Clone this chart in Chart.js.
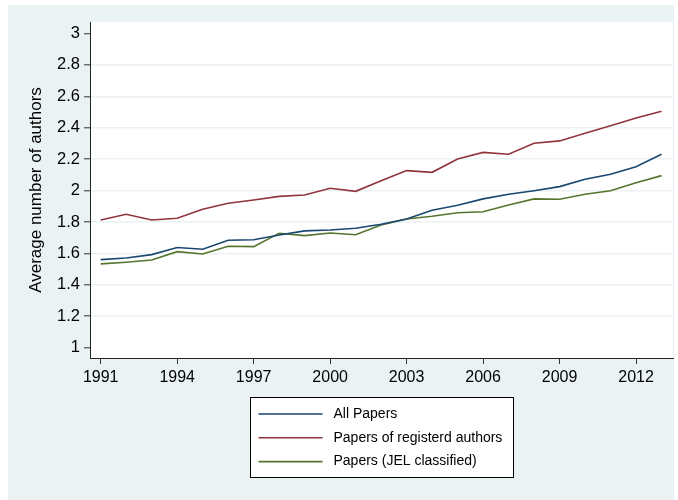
<!DOCTYPE html>
<html>
<head>
<meta charset="utf-8">
<script src="https://cdn.jsdelivr.net/npm/chart.js@4.4.1/dist/chart.umd.min.js"></script>
<style>
  html, body { margin: 0; padding: 0; background: #fff; }
  canvas { display: block; }
</style>
</head>
<body>
<canvas id="myChart" width="678" height="500"></canvas>
<script>
const years = [1991, 1992, 1993, 1994, 1995, 1996, 1997, 1998, 1999, 2000, 2001, 2002,
  2003, 2004, 2005, 2006, 2007, 2008, 2009, 2010, 2011, 2012, 2013]

const allPapers = [1.560, 1.571, 1.592, 1.637, 1.626, 1.684, 1.687, 1.717, 1.743, 1.749,
  1.760, 1.785, 1.819, 1.875, 1.906, 1.947, 1.976, 1.999, 2.025, 2.072, 2.104, 2.152, 2.231]
const registeredAuthors = [1.813, 1.849, 1.813, 1.824, 1.881, 1.919, 1.940, 1.963, 1.972, 2.015,
  1.995, 2.063, 2.127, 2.116, 2.201, 2.243, 2.231, 2.301, 2.316, 2.365, 2.413, 2.462, 2.505]
const jelClassified = [1.533, 1.544, 1.558, 1.611, 1.596, 1.645, 1.643, 1.728, 1.713, 1.730,
  1.719, 1.781, 1.819, 1.836, 1.859, 1.865, 1.908, 1.947, 1.945, 1.976, 1.999, 2.050, 2.095]

const seriesNames = ["All Papers", "Papers of registerd authors", "Papers (JEL classified)"]
const seriesColors = ["#1a476f", "#90353b", "#55752f"]

const xTicks = [1991, 1994, 1997, 2000, 2003, 2006, 2009, 2012]
const yTicks = [1, 1.2, 1.4, 1.6, 1.8, 2, 2.2, 2.4, 2.6, 2.8, 3]

const FONT = "'Liberation Sans', Arial, sans-serif"
const BG = "#eaf2f3"

function pts(vals) {
  return years.map((y, i) => ({ x: y, y: vals[i] }))
}

// stata-like background: grey graph region, white plot region
const backdrop = {
  id: "backdrop",
  beforeDraw(chart) {
    const c = chart.ctx
    const a = chart.chartArea
    c.save()
    c.fillStyle = "#fff"
    c.fillRect(0, 0, chart.width, chart.height)
    c.fillStyle = BG
    c.fillRect(8, 5, chart.width - 12, chart.height - 5)
    c.fillStyle = "#fff"
    c.fillRect(a.left, a.top, a.right - a.left, a.bottom - a.top)
    c.restore()
  }
}

// boxed legend, one entry per row
const boxLegend = {
  id: "boxLegend",
  afterDraw(chart) {
    const c = chart.ctx
    const a = chart.chartArea
    const w = 263, h = 80
    const left = Math.round((a.left + a.right) / 2 - w / 2) + 0.5
    const top = Math.round(a.bottom + 39) + 0.5
    c.save()
    c.fillStyle = "#fff"
    c.fillRect(left, top, w, h)
    c.strokeStyle = "#000"
    c.lineWidth = 1
    c.strokeRect(left, top, w, h)
    c.font = "14px " + FONT
    c.textBaseline = "middle"
    chart.data.datasets.forEach((ds, i) => {
      const y = top + 16.5 + i * 23.8
      c.strokeStyle = ds.borderColor
      c.lineWidth = 1.6
      c.beginPath()
      c.moveTo(left + 8, y)
      c.lineTo(left + 72, y)
      c.stroke()
      c.fillStyle = "#000"
      c.fillText(ds.label, left + 83, y)
    })
    c.restore()
  }
}

const ctx = document.getElementById("myChart")

new Chart(ctx, {
  type: "line",
  data: {
    datasets: [allPapers, registeredAuthors, jelClassified].map((vals, i) => ({
      label: seriesNames[i],
      data: pts(vals),
      borderColor: seriesColors[i],
      borderWidth: 1.6,
      pointRadius: 0,
      tension: 0,
      fill: false
    }))
  },
  options: {
    responsive: false,
    animation: false,
    devicePixelRatio: 1,
    layout: { padding: { top: 22, right: 5, left: 0, bottom: 112 } },
    plugins: {
      legend: { display: false },
      tooltip: { enabled: false }
    },
    scales: {
      x: {
        type: "linear",
        min: 1990.58,
        max: 2013.45,
        afterBuildTicks: (s) => { s.ticks = xTicks.map((v) => ({ value: v })) },
        afterFit: (s) => { s.height = 30 },
        grid: { drawOnChartArea: false, tickLength: 6, tickColor: "#333", tickWidth: 1 },
        border: { display: true, color: "#222", width: 1 },
        ticks: {
          color: "#000",
          padding: 4,
          maxRotation: 0,
          font: { family: FONT, size: 16 },
          callback: (v) => String(v)
        }
      },
      y: {
        type: "linear",
        min: 0.934,
        max: 3.073,
        afterBuildTicks: (s) => { s.ticks = yTicks.map((v) => ({ value: v })) },
        afterFit: (s) => { s.width = 90 },
        grid: {
          color: (c) => (c.tick && (c.tick.value === 1 || c.tick.value === 3)) ? "rgba(0,0,0,0)" : BG,
          lineWidth: 1.6,
          tickLength: 6,
          tickColor: "#333",
          tickWidth: 1
        },
        border: { display: true, color: "#222", width: 1 },
        ticks: {
          color: "#000",
          padding: 4,
          font: { family: FONT, size: 16.5 },
          callback: (v) => String(Math.round(v * 10) / 10)
        },
        title: {
          display: true,
          text: "Average number of authors",
          color: "#000",
          font: { family: FONT, size: 17 },
          padding: { top: 26, bottom: 0 }
        }
      }
    }
  },
  plugins: [backdrop, boxLegend]
})
</script>
</body>
</html>
